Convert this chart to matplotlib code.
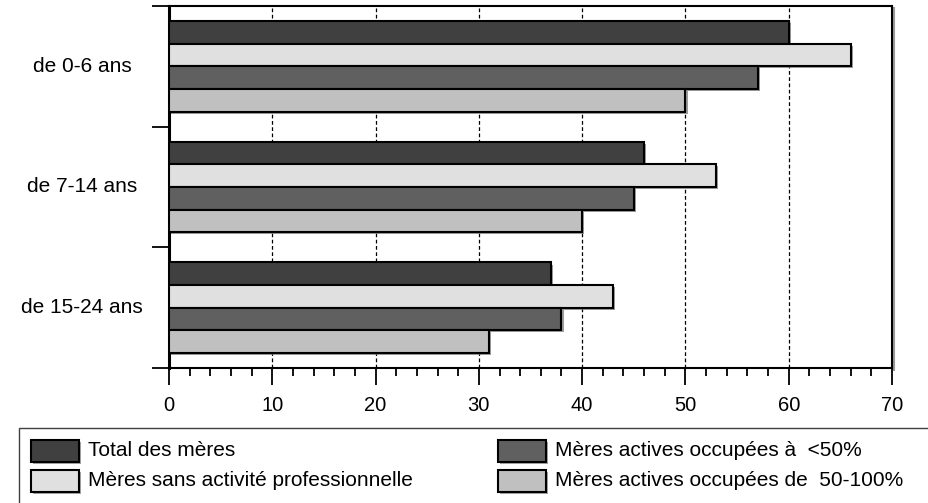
import matplotlib
matplotlib.use("Agg")
import matplotlib.pyplot as plt
import matplotlib.patheffects as pe
from matplotlib.patches import Rectangle
from matplotlib.transforms import blended_transform_factory
from matplotlib.ticker import MultipleLocator, FixedLocator
import numpy as np

plt.rcParams['font.family'] = ['Liberation Sans', 'DejaVu Sans']

categories = ["de 0-6 ans", "de 7-14 ans", "de 15-24 ans"]
series_names = ["Total des mères",
                "Mères sans activité professionnelle",
                "Mères actives occupées à  <50%",
                "Mères actives occupées de  50-100%"]
total = [60, 46, 37]
sans_activite = [66, 53, 43]
moins_50 = [57, 45, 38]
de_50_100 = [50, 40, 31]
series_values = [total, sans_activite, moins_50, de_50_100]
colors = ["#404040", "#e0e0e0", "#606060", "#c0c0c0"]
xticks = [0, 10, 20, 30, 40, 50, 60, 70]

W, H = 929, 503
fig = plt.figure(figsize=(W / 100, H / 100), dpi=100)

def fx(x):
    return x / W

def fy(y):
    return 1 - y / H

ax = fig.add_axes([fx(169), fy(368), fx(892) - fx(169), fy(6) - fy(368)])

n_groups = len(categories)
n_series = len(series_values)
group_fill = 0.75
bar_h = group_fill / n_series
shadow = [pe.SimplePatchShadow(offset=(1.5, -1.5), shadow_rgbFace='0.45', alpha=0.7), pe.Normal()]

for gi in range(n_groups):
    start = gi + (1 - group_fill) / 2
    for si in range(n_series):
        yc = start + bar_h * (si + 0.5)
        b = ax.barh(yc, series_values[si][gi], height=bar_h, color=colors[si],
                    edgecolor='black', linewidth=1.5, zorder=3)
        for p in b:
            p.set_path_effects(shadow)

ax.set_xlim(0, 70)
ax.set_ylim(n_groups, 0)

ax.xaxis.set_major_locator(FixedLocator(xticks))
ax.xaxis.set_minor_locator(MultipleLocator(2))
ax.set_xticklabels([str(t) for t in xticks], fontsize=14.5)
ax.tick_params(axis='x', which='major', length=12, width=1.3, direction='out', pad=8)
ax.tick_params(axis='x', which='minor', length=6, width=1.3, direction='out')

ax.yaxis.set_major_locator(FixedLocator(np.arange(n_groups + 1)))
ax.set_yticklabels([])
ax.yaxis.set_minor_locator(FixedLocator([]))
ax.tick_params(axis='y', which='major', length=12, width=1.3, direction='out')

ax.grid(axis='x', which='major', color='black', linestyle=(0, (3, 2)), linewidth=0.9, zorder=0)
ax.set_axisbelow(True)

for s in ['top', 'right', 'bottom']:
    ax.spines[s].set_linewidth(1.5)
ax.spines['left'].set_linewidth(2.2)
ax.spines['right'].set_path_effects([pe.SimpleLineShadow(offset=(1.5, -1.5), shadow_color='0.5', alpha=0.8), pe.Normal()])

trans = blended_transform_factory(fig.transFigure, ax.transData)
for gi, cat in enumerate(categories):
    ax.text(fx(82), gi + 0.5, cat, transform=trans, ha='center', va='center', fontsize=15)

# Legend box
fig.add_artist(Rectangle((fx(19), fy(520)), fx(960) - fx(19), fy(428) - fy(520),
                         transform=fig.transFigure, facecolor='none', edgecolor='#404040',
                         linewidth=1.0))

leg_pos = [(31, 440), (31, 470), (498, 440), (498, 470)]
for si, (lx, ly) in enumerate(leg_pos):
    fig.add_artist(Rectangle((fx(lx), fy(ly + 22)), fx(48), fy(0) - fy(22),
                             transform=fig.transFigure, facecolor=colors[si],
                             edgecolor='black', linewidth=1.5,
                             path_effects=[pe.SimplePatchShadow(offset=(1.2, -1.2), shadow_rgbFace='0.5', alpha=0.7), pe.Normal()]))
    fig.text(fx(lx + 57), fy(ly + 11), series_names[si], ha='left', va='center', fontsize=15)

fig.savefig("out.png", dpi=100)
